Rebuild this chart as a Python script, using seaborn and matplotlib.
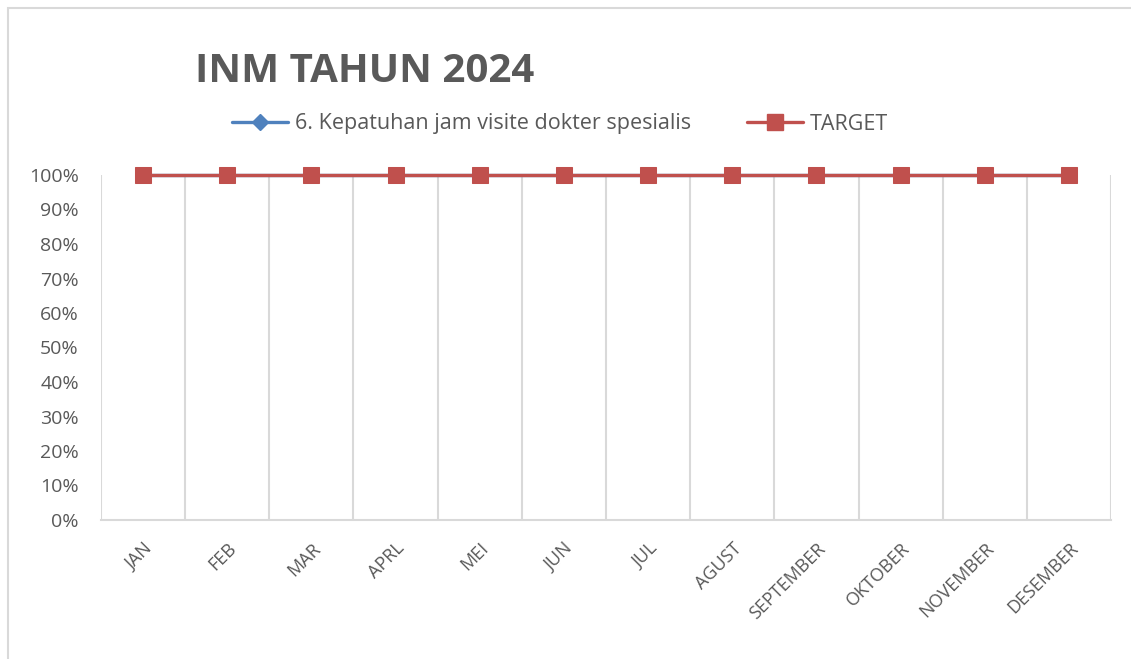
import numpy as np
import pandas as pd
import matplotlib
matplotlib.use('Agg')
import matplotlib.pyplot as plt
import seaborn as sns
from matplotlib.patches import Rectangle
from matplotlib.lines import Line2D
from matplotlib.ticker import PercentFormatter, MultipleLocator

# Data
months = ['JAN', 'FEB', 'MAR', 'APRL', 'MEI', 'JUN', 'JUL', 'AGUST',
          'SEPTEMBER', 'OKTOBER', 'NOVEMBER', 'DESEMBER']
kepatuhan = [1.0, 1.0, 1.0, 1.0, 1.0, 1.0, 1.0, 1.0, 1.0, 1.0, 1.0, 1.0]
target = [1.0, 1.0, 1.0, 1.0, 1.0, 1.0, 1.0, 1.0, 1.0, 1.0, 1.0, 1.0]
series_name = '6. Kepatuhan jam visite dokter spesialis'

sns.set_style('white')
plt.rcParams['font.family'] = ['Open Sans', 'DejaVu Sans']

txt = '#595959'
blue = '#4F81BD'
red = '#C0504D'

df = pd.DataFrame({'x': np.arange(len(months)), 'kep': kepatuhan, 'tgt': target})

fig = plt.figure(figsize=(11.31, 6.59), dpi=100)
ax = fig.add_axes([101 / 1131, 1 - 520 / 659, 1010 / 1131, 345 / 659])

sns.lineplot(data=df, x='x', y='kep', ax=ax, color=blue, lw=2.4, marker='D',
             markersize=8, markeredgecolor=blue, clip_on=False, zorder=3)
sns.lineplot(data=df, x='x', y='tgt', ax=ax, color=red, lw=2.4, marker='s',
             markersize=12, markeredgecolor=red, clip_on=False, zorder=4)

ax.set_xlim(-0.5, len(months) - 0.5)
ax.set_ylim(0, 1)
ax.yaxis.set_major_locator(MultipleLocator(0.1))
ax.yaxis.set_major_formatter(PercentFormatter(1.0, decimals=0))
ax.set_xticks(np.arange(len(months)))
ax.set_xticklabels(months, rotation=45, ha='right', rotation_mode='anchor',
                   fontsize=13, color=txt)
ax.set_xticks(np.arange(-0.5, len(months)), minor=True)
ax.tick_params(axis='x', which='both', length=0, pad=14)
ax.tick_params(axis='y', length=0, labelsize=14, labelcolor=txt, pad=16)
ax.grid(False)
ax.grid(True, which='minor', axis='x', color='#D9D9D9', lw=1.5)
ax.set_xlabel('')
ax.set_ylabel('')
for s in ['top', 'right', 'left']:
    ax.spines[s].set_visible(False)
ax.spines['bottom'].set_color('#D9D9D9')
ax.spines['bottom'].set_linewidth(1.5)

fig.text(365 / 1131, 1 - 72 / 659, 'INM TAHUN 2024', ha='center', va='center',
         fontsize=29, fontweight='bold', color=txt)

handles = [Line2D([], [], color=blue, lw=2.4, marker='D', markersize=8),
           Line2D([], [], color=red, lw=2.4, marker='s', markersize=11)]
fig.legend(handles, [series_name, 'TARGET'], loc='center',
           bbox_to_anchor=(560 / 1131, 1 - 124 / 659), ncol=2, frameon=False,
           fontsize=15.5, labelcolor=txt, handlelength=2.6, handletextpad=0.3,
           columnspacing=2.6)

fig.patches.append(Rectangle((8 / 1131, -0.05), 1.1, 1 - 8 / 659 + 0.05,
                             transform=fig.transFigure, fill=False,
                             edgecolor='#D9D9D9', lw=1.5))

fig.savefig('out.png', dpi=100)
